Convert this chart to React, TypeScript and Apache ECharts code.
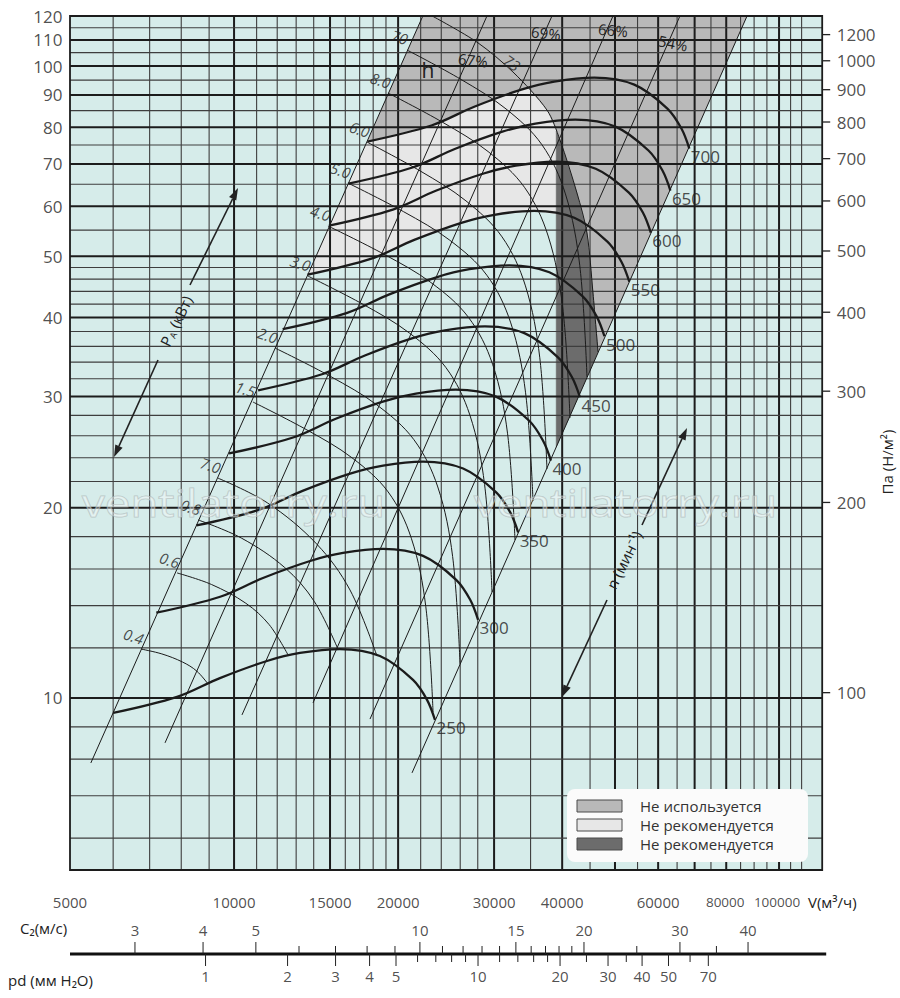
import React, { useEffect, useRef } from "react";
import * as echarts from "echarts";

const FONT = "'Open Sans', 'Noto Sans', 'DejaVu Sans', sans-serif";

// ---- axis ranges ----
const V_MIN = 5000;
const V_MAX = 120000;
const P_MIN = 5.342;
const P_MAX = 120;
const PA_PER_MM = 9.81;
const V_AT_C2_10 = 21930;
const PD_COEF = 0.0612;
const C2_MIN = (V_MIN / V_AT_C2_10) * 10;
const C2_MAX = (V_MAX / V_AT_C2_10) * 10;
const PD_MIN = PD_COEF * C2_MIN * C2_MIN;
const PD_MAX = PD_COEF * C2_MAX * C2_MAX;

// ---- grid / ticks ----
const vGridThin = [6000, 7000, 8000, 9000, 11000, 12000, 13000, 14000, 16000, 17000, 18000, 19000, 22000, 24000, 26000, 28000, 35000, 45000, 55000, 65000, 75000, 85000, 90000, 95000, 105000, 110000];
const vGridThick = [10000, 15000, 20000, 30000, 40000, 50000, 60000, 70000, 80000, 100000];
const pGridThin = [6, 7, 8, 9, 12, 14, 16, 18, 22, 24, 26, 28, 32, 34, 36, 38, 42, 44, 46, 48, 55, 65, 75, 85, 95, 105, 115];
const pGridThick = [10, 20, 30, 40, 50, 60, 70, 80, 90, 100, 110];
const leftTicks = [10, 20, 30, 40, 50, 60, 70, 80, 90, 100, 110, 120];
const paTickValues = [100, 200, 300, 400, 500, 600, 700, 800, 900, 1000, 1100];
const paTickLabels = ["100", "200", "300", "400", "500", "600", "700", "800", "900", "1000", "1200"];
const vTickLabels = [5000, 10000, 15000, 20000, 30000, 40000, 60000, 80000, 100000];
const c2Labeled = [3, 4, 5, 10, 15, 20, 30, 40];
const c2Minor = [6, 7, 8, 9, 11, 12, 13, 14, 16, 17, 18, 19, 25, 35];
const pdLabeled = [1, 2, 3, 4, 5, 10, 20, 30, 40, 50, 70];
const pdMinor = [6, 7, 8, 9, 12, 14, 16, 18, 25, 35, 60];

// ---- fan curves (V m3/h, p) ----
const rpmValues = [250, 300, 350, 400, 450, 500, 550, 600, 650, 700];
const n250 = [[6000, 9.47], [7860, 10.04], [9420, 10.75], [11490, 11.44], [13210, 11.78], [15640, 11.95], [18520, 11.65], [21300, 10.68], [22600, 9.93], [23370, 9.23]];
const n300 = [[7200, 13.64], [9430, 14.46], [11300, 15.48], [13790, 16.47], [15850, 16.96], [18770, 17.21], [22220, 16.78], [25560, 15.38], [27120, 14.3], [28040, 13.29]];
const n350 = [[8530, 18.75], [11170, 19.88], [13390, 21.29], [16330, 22.65], [18770, 23.32], [22220, 23.66], [26320, 23.07], [30270, 21.15], [32120, 19.66], [33210, 18.28]];
const n400 = [[9790, 24.37], [12830, 25.83], [15370, 27.66], [18750, 29.44], [21560, 30.31], [25520, 30.75], [30230, 29.98], [34760, 27.48], [36880, 25.55], [38140, 23.75]];
const n450 = [[11070, 30.68], [14500, 32.53], [17380, 34.83], [21200, 37.07], [24370, 38.17], [28860, 38.72], [34170, 37.75], [39300, 34.6], [41700, 32.17], [43120, 29.91]];
const n500 = [[12280, 38.33], [16080, 40.64], [19270, 43.52], [23510, 46.31], [27030, 47.69], [32000, 48.37], [37890, 47.16], [43580, 43.23], [46240, 40.2], [47820, 37.36]];
const n550 = [[13640, 46.75], [17870, 49.57], [21410, 53.07], [26120, 56.48], [30030, 58.16], [35550, 59.0], [42100, 57.52], [48420, 52.73], [51370, 49.02], [53120, 45.57]];
const n600 = [[14930, 55.91], [19560, 59.28], [23450, 63.47], [28600, 67.54], [32880, 69.55], [38930, 70.55], [46100, 68.78], [53020, 63.05], [56250, 58.63], [58170, 54.49]];
const n650 = [[16220, 65.17], [21250, 69.1], [25470, 73.98], [31070, 78.73], [35720, 81.07], [42290, 82.24], [50080, 80.18], [57600, 73.5], [61110, 68.34], [63190, 63.52]];
const n700 = [[17570, 75.95], [23020, 80.52], [27590, 86.22], [33650, 91.75], [38690, 94.48], [45810, 95.84], [54250, 93.43], [62390, 85.65], [66200, 79.64], [68450, 74.02]];
const rpmCurves = [n250, n300, n350, n400, n450, n500, n550, n600, n650, n700];

// ---- power lines P_A (kW) ----
const powerLabels = ["0.4", "0.6", "0.8", "7.0", "1.5", "2.0", "3.0", "4.0", "5.0", "6.0", "8.0", "70"];
const pw04 = [[6750, 11.95], [7370, 11.74], [8040, 11.4], [8540, 11.03], [8960, 10.52]];
const pw06 = [[7860, 15.77], [9090, 15.12], [10510, 14.12], [11600, 13.06], [12560, 11.7]];
const pw08 = [[8590, 19.13], [10310, 17.91], [12390, 16.08], [14030, 14.22], [15510, 11.95]];
const pw10 = [[9340, 22.28], [11510, 20.36], [14170, 17.53], [16320, 14.82], [18290, 11.65]];
const pw15 = [[10830, 29.4], [13610, 26.55], [16460, 23.99], [19170, 21.19], [21150, 17.89], [22480, 13.95], [23180, 9.5]];
const pw20 = [[11890, 35.79], [15030, 32.27], [18280, 29.09], [21370, 25.64], [23650, 21.57], [25180, 16.74], [25980, 11.32]];
const pw30 = [[13660, 46.53], [17260, 41.95], [20960, 37.82], [24480, 33.32], [27080, 28.04], [28820, 21.76], [29740, 14.71]];
const pw40 = [[14870, 55.83], [18850, 50.36], [22970, 45.44], [26900, 40.06], [29810, 33.74], [31750, 26.24], [32770, 17.78]];
const pw50 = [[16180, 65.29], [20460, 58.83], [24880, 53.01], [29090, 46.67], [32190, 39.22], [34270, 30.4], [35360, 20.5]];
const pw60 = [[17540, 75.8], [22030, 68.11], [26640, 61.18], [31020, 53.67], [34250, 44.88], [36390, 34.54], [37510, 23.03]];
const pw80 = [[19160, 90.64], [24140, 81.46], [29250, 73.23], [34110, 64.28], [37700, 53.83], [40090, 41.48], [41340, 27.74]];
const pw100 = [[20770, 106.0], [26090, 95.23], [31550, 85.53], [36730, 75.05], [40550, 62.76], [43090, 48.3], [44420, 32.21]];
const powerLines = [pw04, pw06, pw08, pw10, pw15, pw20, pw30, pw40, pw50, pw60, pw80, pw100];
const pw130Label = "73";
const pw130 = [[23100, 120], [27910, 109.1], [32490, 97.85], [37510, 85.18], [39630, 76.38], [42580, 62.96], [44420, 54.42], [45560, 43.73], [46540, 35.28]];

// ---- system (efficiency) lines p ~ V^2 ----
const sysLines = [
  [[5460, 7.89], [22200, 120]],
  [[7470, 8.49], [29110, 120]],
  [[10340, 9.4], [38310, 120]],
  [[13960, 9.82], [49580, 120]],
  [[17760, 9.26], [65790, 120]],
  [[21210, 7.61], [87350, 120]],
];

// ---- shaded zones ----
const zoneUnused = [[22200, 120], [87350, 120], [46540, 35.28], [45560, 43.73], [44420, 54.42], [42580, 62.96], [39630, 76.38], [37510, 85.18], [34600, 92.3], [33650, 91.75], [27590, 86.22], [23020, 80.52], [17570, 75.95]];
const zoneNotRecLight = [[17570, 75.95], [13640, 46.75], [17870, 49.57], [21410, 53.07], [26120, 56.48], [30030, 58.16], [35550, 59.0], [39000, 58.3], [39000, 78.85], [37510, 85.18], [34600, 92.3], [33650, 91.75], [27590, 86.22], [23020, 80.52]];
const zoneNotRecDark = [[39000, 78.85], [39630, 76.38], [42580, 62.96], [44420, 54.42], [45560, 43.73], [46540, 35.28], [39000, 24.93]];

const legendItems = ["Не используется", "Не рекомендуется", "Не рекомендуется"];

const COL_BG = "#d6ecea";
const COL_UNUSED = "#b9b9b9";
const COL_LIGHT = "#e7e7e7";
const COL_DARK = "#6c6c6c";
const INK = "#1b1b1b";

function polygonSeries(pts: number[][], color: string) {
  return {
    type: "custom",
    xAxisIndex: 0,
    yAxisIndex: 0,
    z: 1,
    silent: true,
    data: [pts[0]],
    renderItem: (params: any, api: any) => ({
      type: "polygon",
      shape: { points: pts.map((p) => api.coord(p)) },
      style: { fill: color, stroke: color, lineWidth: 0.5 },
    }),
  };
}

function lineSeries(data: number[][], width: number, z: number, smooth: any) {
  return {
    type: "line",
    xAxisIndex: 0,
    yAxisIndex: 0,
    data,
    symbol: "none",
    showSymbol: false,
    smooth,
    silent: true,
    z,
    lineStyle: { color: INK, width },
    emphasis: { disabled: true },
  };
}

function labelScatter(data: any[], label: any, extra: any = {}) {
  return {
    type: "scatter",
    symbol: "circle",
    symbolSize: 1,
    itemStyle: { color: "rgba(0,0,0,0)" },
    clip: false,
    silent: true,
    z: 8,
    data,
    emphasis: { disabled: true },
    label: { show: true, formatter: "{b}", color: "#222", fontFamily: FONT, ...label },
    ...extra,
  };
}

function arrow(x1: number, y1: number, x2: number, y2: number) {
  const dx = x2 - x1;
  const dy = y2 - y1;
  const L = Math.hypot(dx, dy);
  const ux = dx / L;
  const uy = dy / L;
  const nx = -uy;
  const ny = ux;
  const bx = x2 - ux * 12;
  const by = y2 - uy * 12;
  return [
    { type: "line", z: 100, shape: { x1, y1, x2: bx, y2: by }, style: { stroke: "#222", lineWidth: 1.6 } },
    {
      type: "polygon",
      z: 100,
      shape: { points: [[x2, y2], [bx + nx * 4, by + ny * 4], [bx - nx * 4, by - ny * 4]] },
      style: { fill: "#222" },
    },
  ];
}

function txt(text: string, x: number, y: number, opts: any = {}) {
  const { rotation = 0, scaleX = 1, ...style } = opts;
  return {
    type: "text",
    z: 100,
    x,
    y,
    rotation,
    scaleX,
    silent: true,
    style: {
      text,
      fill: "#222",
      fontFamily: FONT,
      fontSize: 15,
      align: "center",
      verticalAlign: "middle",
      ...style,
    },
  };
}

function buildOption() {
  const series: any[] = [];

  // shaded zones
  series.push(polygonSeries(zoneUnused, COL_UNUSED));
  series.push(polygonSeries(zoneNotRecLight, COL_LIGHT));
  series.push(polygonSeries(zoneNotRecDark, COL_DARK));

  // vertical grid
  series.push({
    type: "custom",
    xAxisIndex: 0,
    yAxisIndex: 0,
    z: 2,
    silent: true,
    data: [...vGridThin.map((v) => [v, P_MIN, 0]), ...vGridThick.map((v) => [v, P_MIN, 1])],
    renderItem: (params: any, api: any) => {
      const v = api.value(0);
      const thick = api.value(2);
      const a = api.coord([v, P_MIN]);
      const b = api.coord([v, P_MAX]);
      return {
        type: "line",
        shape: { x1: a[0], y1: a[1], x2: b[0], y2: b[1] },
        style: { stroke: thick ? "#1c1c1c" : "#3e3e3e", lineWidth: thick ? 2 : 1.1 },
      };
    },
  });
  // horizontal grid
  series.push({
    type: "custom",
    xAxisIndex: 0,
    yAxisIndex: 0,
    z: 2,
    silent: true,
    data: [...pGridThin.map((p) => [V_MIN, p, 0]), ...pGridThick.map((p) => [V_MIN, p, 1])],
    renderItem: (params: any, api: any) => {
      const p = api.value(1);
      const thick = api.value(2);
      const a = api.coord([V_MIN, p]);
      const b = api.coord([V_MAX, p]);
      return {
        type: "line",
        shape: { x1: a[0], y1: a[1], x2: b[0], y2: b[1] },
        style: { stroke: thick ? "#1c1c1c" : "#3e3e3e", lineWidth: thick ? 2 : 1.1 },
      };
    },
  });
  // frame
  series.push({
    type: "custom",
    xAxisIndex: 0,
    yAxisIndex: 0,
    z: 3,
    silent: true,
    data: [[V_MIN, P_MIN]],
    renderItem: (params: any, api: any) => {
      const a = api.coord([V_MIN, P_MAX]);
      const b = api.coord([V_MAX, P_MIN]);
      return {
        type: "rect",
        shape: { x: a[0], y: a[1], width: b[0] - a[0], height: b[1] - a[1] },
        style: { fill: "none", stroke: "#1c1c1c", lineWidth: 1.8 },
      };
    },
  });
  // right Pa ticks
  series.push({
    type: "custom",
    xAxisIndex: 0,
    yAxisIndex: 1,
    z: 3,
    silent: true,
    data: paTickValues.map((v) => [V_MAX, v]),
    renderItem: (params: any, api: any) => {
      const c = api.coord([V_MAX, api.value(1)]);
      return { type: "line", shape: { x1: c[0], y1: c[1], x2: c[0] + 8, y2: c[1] }, style: { stroke: "#222", lineWidth: 1.3 } };
    },
  });

  // system lines
  sysLines.forEach((l) => series.push(lineSeries(l, 1, 3, false)));
  // power lines
  powerLines.forEach((l) => series.push(lineSeries(l, 1, 3, 0.35)));
  series.push(lineSeries(pw130, 1, 3, 0.3));
  // fan speed curves
  rpmCurves.forEach((c) => series.push(lineSeries(c, 2.3, 4, 0.35)));

  // left labels
  series.push(
    labelScatter(
      leftTicks.map((v) => ({ value: [V_MIN, v], name: String(v) })),
      { position: "left", distance: 7, fontSize: 17 }
    )
  );
  // right labels (Pa)
  series.push(
    labelScatter(
      paTickValues.map((v, i) => ({ value: [V_MAX, v], name: paTickLabels[i] })),
      { position: "right", distance: 14, fontSize: 17 },
      { yAxisIndex: 1 }
    )
  );
  // V labels
  series.push(
    labelScatter(
      vTickLabels.map((v, i) => ({
        value: [v, P_MIN],
        name: String(v),
        label: i >= vTickLabels.length - 2 ? { fontSize: 13.5, offset: [i === vTickLabels.length - 1 ? -2 : -1, 0] } : undefined,
      })),
      { position: "bottom", distance: 24, fontSize: 15 }
    )
  );
  // rpm labels
  series.push(
    labelScatter(
      rpmCurves.map((c, i) => ({ value: c[c.length - 1], name: String(rpmValues[i]) })),
      { position: "right", distance: 1, offset: [0, 8], fontSize: 17 }
    )
  );
  // power labels
  series.push(
    labelScatter(
      powerLines.map((l, i) => ({ value: l[0], name: powerLabels[i] })),
      { position: "inside", offset: [-11, -10], rotate: -18, fontSize: 15, fontStyle: "italic" }
    )
  );
  series.push(
    labelScatter([{ value: pw130[2], name: pw130Label }], {
      position: "inside",
      offset: [-6, -7],
      rotate: -35,
      fontSize: 15,
      fontStyle: "italic",
    })
  );

  // ---- bottom scale (C2 / pd) ----
  series.push({
    type: "custom",
    xAxisIndex: 1,
    yAxisIndex: 2,
    z: 3,
    silent: true,
    data: [[C2_MIN, 0]],
    renderItem: (params: any, api: any) => {
      const a = api.coord([C2_MIN, 0]);
      const b = api.coord([C2_MAX, 0]);
      return { type: "line", shape: { x1: a[0], y1: a[1], x2: b[0] + 4, y2: b[1] }, style: { stroke: "#111", lineWidth: 2.8 } };
    },
  });
  series.push({
    type: "custom",
    xAxisIndex: 1,
    yAxisIndex: 2,
    z: 3,
    silent: true,
    data: [...c2Labeled.map((c) => [c, 0, 1]), ...c2Minor.map((c) => [c, 0, 0])],
    renderItem: (params: any, api: any) => {
      const p = api.coord([api.value(0), 0]);
      const len = api.value(2) ? 12 : 8;
      return { type: "line", shape: { x1: p[0], y1: p[1], x2: p[0], y2: p[1] - len }, style: { stroke: "#222", lineWidth: 1 } };
    },
  });
  series.push({
    type: "custom",
    xAxisIndex: 2,
    yAxisIndex: 2,
    z: 3,
    silent: true,
    data: [...pdLabeled.map((c) => [c, 0, 1]), ...pdMinor.map((c) => [c, 0, 0])],
    renderItem: (params: any, api: any) => {
      const p = api.coord([api.value(0), 0]);
      const len = api.value(2) ? 12 : 8;
      return { type: "line", shape: { x1: p[0], y1: p[1], x2: p[0], y2: p[1] + len }, style: { stroke: "#222", lineWidth: 1 } };
    },
  });
  series.push(
    labelScatter(
      c2Labeled.map((c) => ({ value: [c, 0], name: String(c) })),
      { position: "top", distance: 16, fontSize: 15 },
      { xAxisIndex: 1, yAxisIndex: 2 }
    )
  );
  series.push(
    labelScatter(
      pdLabeled.map((c) => ({ value: [c, 0], name: String(c) })),
      { position: "bottom", distance: 14, fontSize: 15 },
      { xAxisIndex: 2, yAxisIndex: 2 }
    )
  );

  const watermarkStyle = {
    align: "left",
    fontSize: 38,
    scaleX: 1.2,
    fill: "rgba(255,255,255,0.35)",
    stroke: "rgba(165,176,176,0.65)",
    lineWidth: 1,
  };

  const graphic: any[] = [
    ...arrow(190, 285, 238, 188),
    ...arrow(158, 360, 114, 457),
    ...arrow(642, 525, 687, 428),
    ...arrow(607, 600, 562, 697),
    {
      type: "text",
      z: 100,
      x: 176,
      y: 321,
      rotation: (64 * Math.PI) / 180,
      silent: true,
      style: {
        text: "{a|P}{b|A}{a| (кВт)}",
        align: "center",
        verticalAlign: "middle",
        rich: {
          a: { fontSize: 15, fill: "#222", fontFamily: FONT },
          b: { fontSize: 9, fill: "#222", fontFamily: FONT, padding: [7, 1, 0, 1] },
        },
      },
    },
    txt("n (мин⁻¹)", 624, 560, { rotation: (64 * Math.PI) / 180 }),
    txt("Па (Н/м²)", 887, 462, { rotation: Math.PI / 2 }),
    txt("V(м³/ч)", 808, 902, { align: "left" }),
    txt("C₂(м/с)", 20, 928, { align: "left" }),
    txt("pd (мм H₂O)", 8, 980, { align: "left" }),
    txt("67%", 473, 60, { rotation: -0.12 }),
    txt("69%", 546, 33, { rotation: -0.12 }),
    txt("66%", 613, 30, { rotation: -0.08 }),
    txt("54%", 673, 43, { rotation: -0.2 }),
    txt("h", 428, 70, { fontSize: 21 }),
    // legend
    { type: "rect", z: 110, shape: { x: 567, y: 789, width: 241, height: 73, r: 8 }, style: { fill: "#fbfbfb" } },
    { type: "rect", z: 111, shape: { x: 577, y: 800, width: 45, height: 12 }, style: { fill: COL_UNUSED, stroke: "#4a4a4a", lineWidth: 1 } },
    { type: "rect", z: 111, shape: { x: 577, y: 819, width: 45, height: 12 }, style: { fill: COL_LIGHT, stroke: "#4a4a4a", lineWidth: 1 } },
    { type: "rect", z: 111, shape: { x: 577, y: 838, width: 45, height: 12 }, style: { fill: COL_DARK, stroke: "#4a4a4a", lineWidth: 1 } },
    { ...txt(legendItems[0], 640, 806, { align: "left", fill: "#333" }), z: 112 },
    { ...txt(legendItems[1], 640, 825, { align: "left", fill: "#333" }), z: 112 },
    { ...txt(legendItems[2], 640, 844, { align: "left", fill: "#333" }), z: 112 },
    // watermark
    txt("ventilatorry.ru", 82, 502, watermarkStyle),
    txt("ventilatorry.ru", 474, 502, watermarkStyle),
  ];

  return {
    animation: false,
    backgroundColor: "#ffffff",
    textStyle: { fontFamily: FONT },
    grid: [
      { left: 70, right: 77.8, top: 16, bottom: 128, show: true, backgroundColor: COL_BG, borderWidth: 0 },
      { left: 70, right: 77.8, top: 944, height: 20, show: false },
    ],
    xAxis: [
      { type: "log", logBase: 10, gridIndex: 0, min: V_MIN, max: V_MAX, show: false },
      { type: "log", logBase: 10, gridIndex: 1, min: C2_MIN, max: C2_MAX, show: false },
      { type: "log", logBase: 10, gridIndex: 1, min: PD_MIN, max: PD_MAX, show: false },
    ],
    yAxis: [
      { type: "log", logBase: 10, gridIndex: 0, min: P_MIN, max: P_MAX, show: false },
      { type: "log", logBase: 10, gridIndex: 0, min: P_MIN * PA_PER_MM, max: P_MAX * PA_PER_MM, show: false },
      { type: "value", gridIndex: 1, min: -1, max: 1, show: false },
    ],
    series,
    graphic,
  };
}

export default function App() {
  const ref = useRef<HTMLDivElement>(null);
  useEffect(() => {
    if (!ref.current) return;
    const chart = echarts.init(ref.current, null, { renderer: "svg" });
    chart.setOption(buildOption() as any);
    return () => chart.dispose();
  }, []);
  return (
    <div
      ref={ref}
      style={{ position: "fixed", left: 0, top: 0, width: 900, height: 998, background: "#fff" }}
    />
  );
}
